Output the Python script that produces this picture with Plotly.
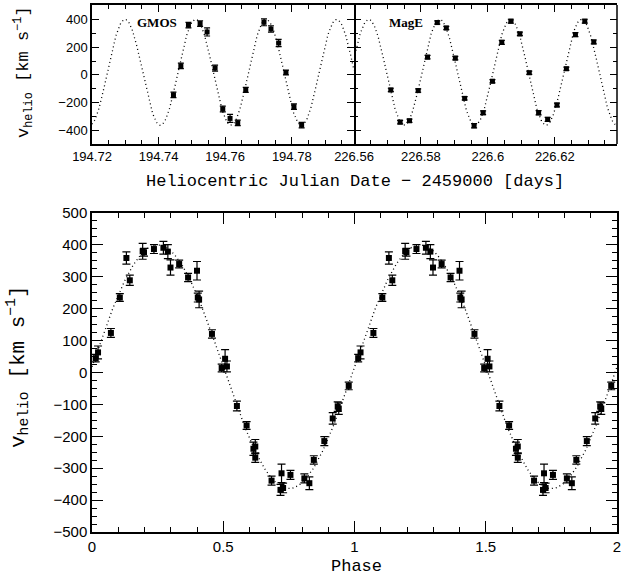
import numpy as np
import plotly.graph_objects as go

# GMOS night, HJD - 2459000
gmos_t = [194.74447, 194.74669, 194.74897, 194.75247, 194.75457, 194.75697,
          194.75928, 194.76147, 194.76378, 194.76618, 194.77166, 194.77376,
          194.77607, 194.77826, 194.78066, 194.78297]
gmos_v = [-145, 65, 359, 371, 310, 49, -247, -315, -347, -109, 380, 332,
          230, 17, -230, -364]
gmos_err = [20, 20, 20, 20, 29, 22, 21, 29, 20, 18, 25, 23, 26, 17, 20, 20]

# MagE night
mage_t = [226.57100, 226.57379, 226.57658, 226.57919, 226.58198, 226.58489,
          226.58759, 226.59028, 226.59307, 226.59589, 226.59859, 226.60138,
          226.60417, 226.60687, 226.60957, 226.61238, 226.61517, 226.61787,
          226.62066, 226.62348, 226.62618, 226.62897, 226.63166]
mage_v = [-109, -342, -332, -114, 128, 378, 339, 121, -170, -368, -274, -46,
          235, 388, 296, 15, -274, -322, -218, 44, 291, 388, 238]
mage_err = [12, 13, 12, 12, 13, 12, 12, 13, 12, 15, 13, 12,
            14, 14, 13, 12, 15, 14, 14, 12, 14, 14, 14]

# phase-folded velocities (both instruments)
phase = [0.014, 0.023, 0.072, 0.106, 0.131, 0.144, 0.193, 0.198, 0.236, 0.272,
         0.289, 0.299, 0.332, 0.366, 0.400, 0.403, 0.408, 0.457, 0.494, 0.507,
         0.514, 0.552, 0.589, 0.615, 0.622, 0.622, 0.684, 0.718, 0.722, 0.728,
         0.756, 0.809, 0.828, 0.845, 0.885, 0.917, 0.936, 0.940, 0.978]
phase_v = [45, 63, 124, 235, 359, 289, 380, 377, 387, 391,
           379, 329, 340, 298, 319, 235, 229, 121, 14, 43,
           19, -105, -166, -239, -232, -267, -339, -368, -316, -362,
           -321, -332, -347, -274, -215, -144, -107, -113, -42]
phase_err = [12, 20, 14, 12, 19, 16, 25, 12, 14, 20,
             22, 24, 12, 13, 29, 14, 26, 13, 12, 29,
             17, 15, 12, 21, 22, 15, 14, 17, 29, 15,
             14, 14, 20, 13, 14, 18, 15, 18, 12]

# sine model
period = 0.0212
gamma = 18
semi_amp = 382
gmos_t0 = 194.72992 - period / 4
mage_t0 = 226.56440 - period / 4

gmos_range = [194.72, 194.7987]
mage_range = [226.56, 226.6386]

fig = go.Figure()

mono = "Liberation Mono"
sans = "Liberation Sans"
dotted = dict(color="black", width=1.3, dash="1px,3px")


def model(t, t0):
    return gamma + semi_amp * np.sin(2 * np.pi * (t - t0) / period)


def points(x, y, err, xa, ya, size, cap):
    return go.Scatter(x=x, y=y, mode="markers", xaxis=xa, yaxis=ya,
                      marker=dict(symbol="square", size=size, color="black"),
                      error_y=dict(type="data", array=err, color="black",
                                   thickness=1.2, width=cap),
                      showlegend=False)


tg = np.linspace(gmos_range[0], gmos_range[1], 400)
fig.add_trace(go.Scatter(x=tg, y=model(tg, gmos_t0), mode="lines", xaxis="x", yaxis="y",
                         line=dotted, showlegend=False))
fig.add_trace(points(gmos_t, gmos_v, gmos_err, "x", "y", 5, 3))

tm = np.linspace(mage_range[0], mage_range[1], 400)
fig.add_trace(go.Scatter(x=tm, y=model(tm, mage_t0), mode="lines", xaxis="x2", yaxis="y2",
                         line=dotted, showlegend=False))
fig.add_trace(points(mage_t, mage_v, mage_err, "x2", "y2", 5, 3))

ph = np.linspace(0, 2, 400)
fig.add_trace(go.Scatter(x=ph, y=gamma + semi_amp * np.sin(2 * np.pi * ph), mode="lines",
                         xaxis="x3", yaxis="y3", line=dotted, showlegend=False))
ph2 = list(phase) + [p + 1 for p in phase]
fig.add_trace(points(ph2, phase_v + phase_v, phase_err + phase_err, "x3", "y3", 6, 4))

frame = dict(showline=True, linecolor="black", linewidth=1.5, mirror="allticks",
             ticks="inside", tickcolor="black", tickwidth=1.2, showgrid=False,
             zeroline=False, automargin=False)

top_font = dict(family=sans, size=13, color="black")
bot_font = dict(family=sans, size=15, color="black")

x_left, x_mid, x_right = 92 / 624, 354 / 624, 617 / 624
top_dom = [1 - 144 / 579, 1 - 5 / 579]

fig.update_layout(
    width=624, height=579,
    margin=dict(l=0, r=0, t=0, b=0),
    paper_bgcolor="white", plot_bgcolor="white",
    xaxis=dict(frame, domain=[x_left, x_mid], range=gmos_range, anchor="y",
               dtick=0.02, tick0=194.72, ticklen=7, tickfont=top_font,
               minor=dict(dtick=0.005, tick0=194.72, ticks="inside", ticklen=4,
                          tickcolor="black", tickwidth=1)),
    yaxis=dict(frame, domain=top_dom, range=[-500, 505], anchor="x",
               dtick=200, ticklen=7, tickfont=top_font,
               minor=dict(dtick=100, ticks="inside", ticklen=4,
                          tickcolor="black", tickwidth=1)),
    xaxis2=dict(frame, domain=[x_mid, x_right], range=mage_range, anchor="y2",
                dtick=0.02, tick0=226.56, ticklen=7, tickfont=top_font,
                minor=dict(dtick=0.005, tick0=226.56, ticks="inside", ticklen=4,
                           tickcolor="black", tickwidth=1)),
    yaxis2=dict(frame, domain=top_dom, range=[-500, 505], anchor="x2",
                showline=False, dtick=200, ticklen=7, showticklabels=False,
                minor=dict(dtick=100, ticks="inside", ticklen=4,
                           tickcolor="black", tickwidth=1)),
    xaxis3=dict(frame, domain=[x_left, x_right], range=[0, 2], anchor="y3",
                dtick=0.5, ticklen=11, tickfont=bot_font,
                minor=dict(dtick=0.1, ticks="inside", ticklen=5.5,
                           tickcolor="black", tickwidth=1)),
    yaxis3=dict(frame, domain=[1 - 532 / 579, 1 - 213 / 579], range=[-500, 500], anchor="x3",
                dtick=100, ticklen=11, tickfont=bot_font,
                minor=dict(dtick=25, ticks="inside", ticklen=5.5,
                           tickcolor="black", tickwidth=1)),
)

# right border of the MagE panel
fig.add_shape(type="line", xref="paper", yref="paper", x0=x_right, x1=x_right,
              y0=top_dom[0], y1=top_dom[1], line=dict(color="black", width=1.5))

ann = [
    dict(text="Heliocentric Julian Date − 2459000 [days]", x=355 / 624, y=1 - 181 / 579,
         font=dict(family=mono, size=17, color="black")),
    dict(text="Phase", x=356 / 624, y=1 - 566 / 579,
         font=dict(family=mono, size=17, color="black")),
    dict(text="v<sub>helio</sub> [km s<sup>−1</sup>]", x=23 / 624, y=1 - 72 / 579,
         textangle=-90, font=dict(family=mono, size=17, color="black")),
    dict(text="v<sub>helio</sub> [km s<sup>−1</sup>]", x=17 / 624, y=1 - 367 / 579,
         textangle=-90, font=dict(family=mono, size=21, color="black")),
    dict(text="<b>GMOS</b>", x=157 / 624, y=1 - 23 / 579,
         font=dict(family="Liberation Serif", size=13, color="black")),
    dict(text="<b>MagE</b>", x=406 / 624, y=1 - 23 / 579,
         font=dict(family="Liberation Serif", size=13, color="black")),
]
for a in ann:
    fig.add_annotation(xref="paper", yref="paper", showarrow=False,
                       xanchor="center", yanchor="middle", **a)

fig.write_html("out.html", config={"displayModeBar": False},
               post_script="document.body.style.margin = '0px';")
